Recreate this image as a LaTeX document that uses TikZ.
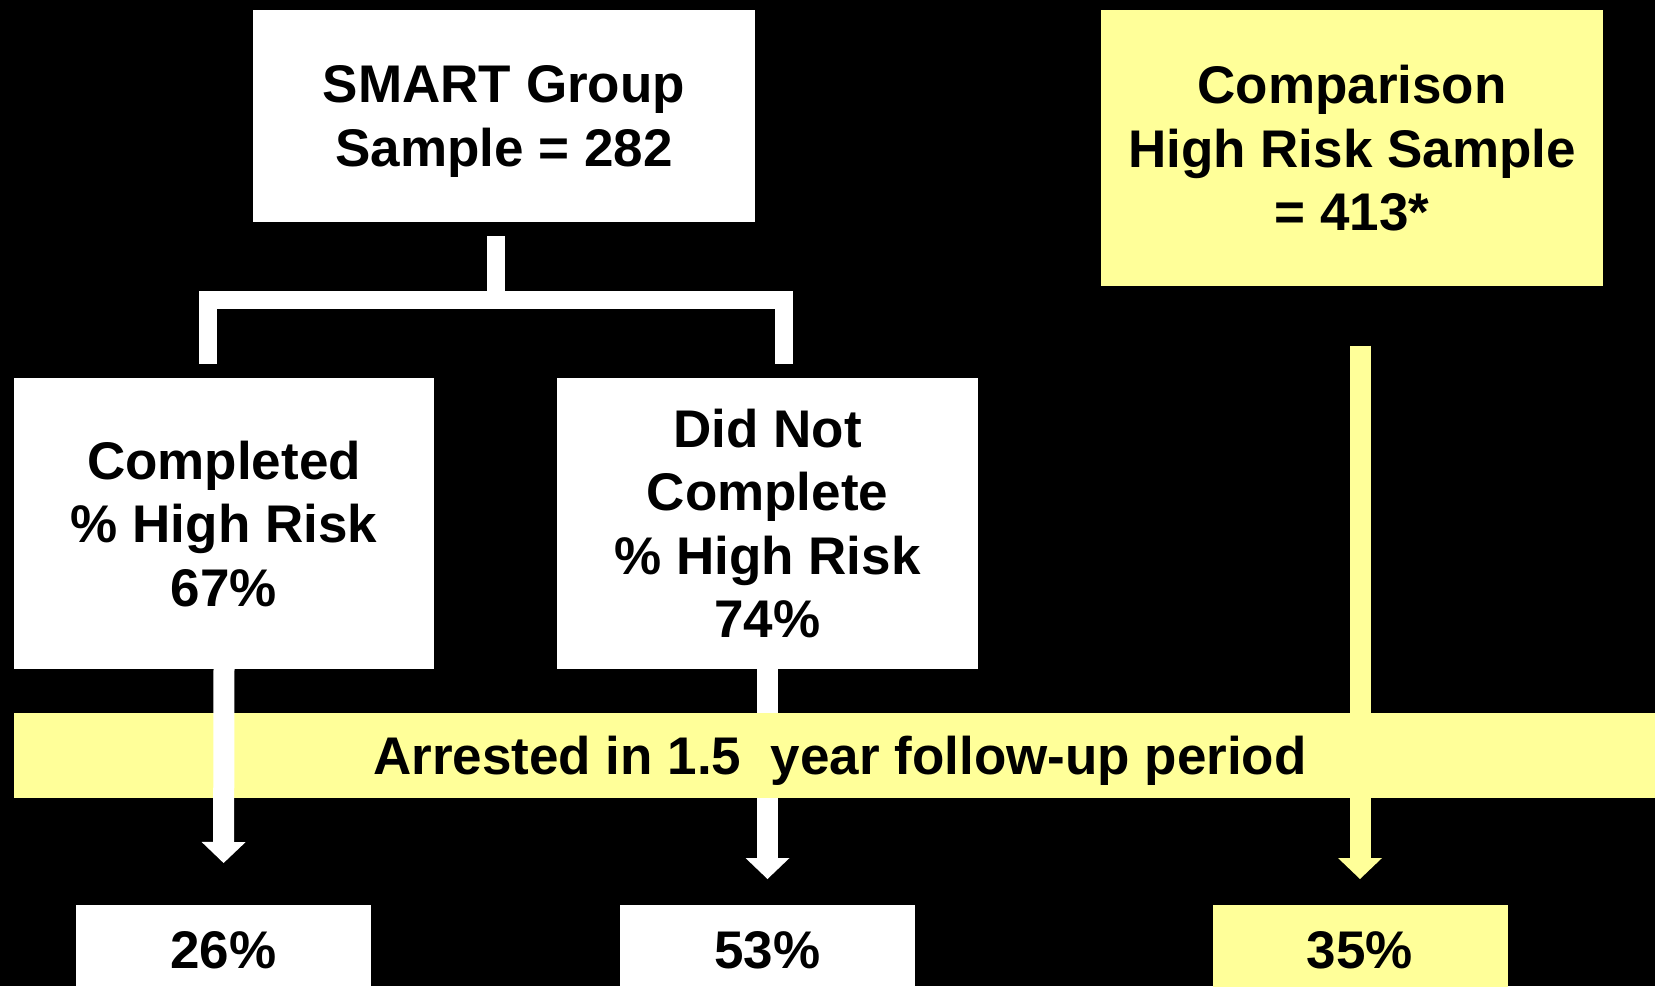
\documentclass[tikz,border=0pt]{standalone}
\usepackage{fontspec}
\setmainfont{Liberation Sans}
\usetikzlibrary{arrows.meta,calc}
\definecolor{paleyellow}{HTML}{FFFF99}
\begin{document}
\begin{tikzpicture}[x=1pt,y=-1pt,
  box/.style={inner sep=0pt, align=center, text depth=0pt,
    font=\bfseries\fontsize{53}{63.5}\selectfont},
  whitebox/.style={box, fill=white},
  yellowbox/.style={box, fill=paleyellow},
  resbox/.style={box, anchor=north, minimum width=295pt, text height=63pt, text depth=46pt},
  bar/.style={draw=white, line width=18pt, line join=miter},
  blockarrow/.style={line width=21pt, -{Triangle[width=44pt,length=21pt,line width=0pt]}},
]
\useasboundingbox (0,0) rectangle (1655,986);
\clip (0,0) rectangle (1655,986);
\fill[black] (0,0) rectangle (1655,986);

% top row
\node[whitebox, minimum width=502pt, minimum height=212pt] (smart) at (504,116)
  {SMART Group\\Sample = 282};
\node[yellowbox, minimum width=502pt, minimum height=276pt] (cmp) at (1352,148)
  {Comparison\\High Risk Sample\\= 413*};

% split of the SMART group
\node[whitebox, minimum width=420pt, minimum height=291pt] (done) at (224,523.5)
  {Completed\\\% High Risk\\67\%};
\node[whitebox, minimum width=421pt, minimum height=291pt] (notdone) at (767.5,523.5)
  {Did Not\\Complete\\\% High Risk\\74\%};

% bracket from the SMART group to its two halves
\draw[bar] ($(smart.south)+(-8,14)$) -- ($(smart.south)+(-8,78)$);
\draw[bar] ($(done.north)+(-16.5,-14)$) |- ($(smart.south)+(-8,78)$)
  -| ($(notdone.north)+(16,-14)$);

% outcome boxes
\node[resbox, fill=white] (r26) at (223.5,905) {26\%};
\node[resbox, fill=white] (r53) at (767.5,905) {53\%};
\node[resbox, fill=paleyellow] (r35) at (1360,905) {35\%};

% arrow that passes behind the band
\draw[blockarrow, draw=white, shorten >=26pt] (notdone.south) -- (r53.north);

% follow-up band
\node[yellowbox, minimum width=1653pt, minimum height=85pt] (band) at (840,755.5)
  {Arrested in 1.5~ year follow-up period};

% arrows drawn over the band
\draw[blockarrow, draw=white, shorten >=42pt] (done.south) -- (r26.north);
\draw[blockarrow, draw=paleyellow, shorten <=59.5pt, shorten >=26pt]
  (cmp.south -| r35.north) -- (r35.north);
\end{tikzpicture}
\end{document}
